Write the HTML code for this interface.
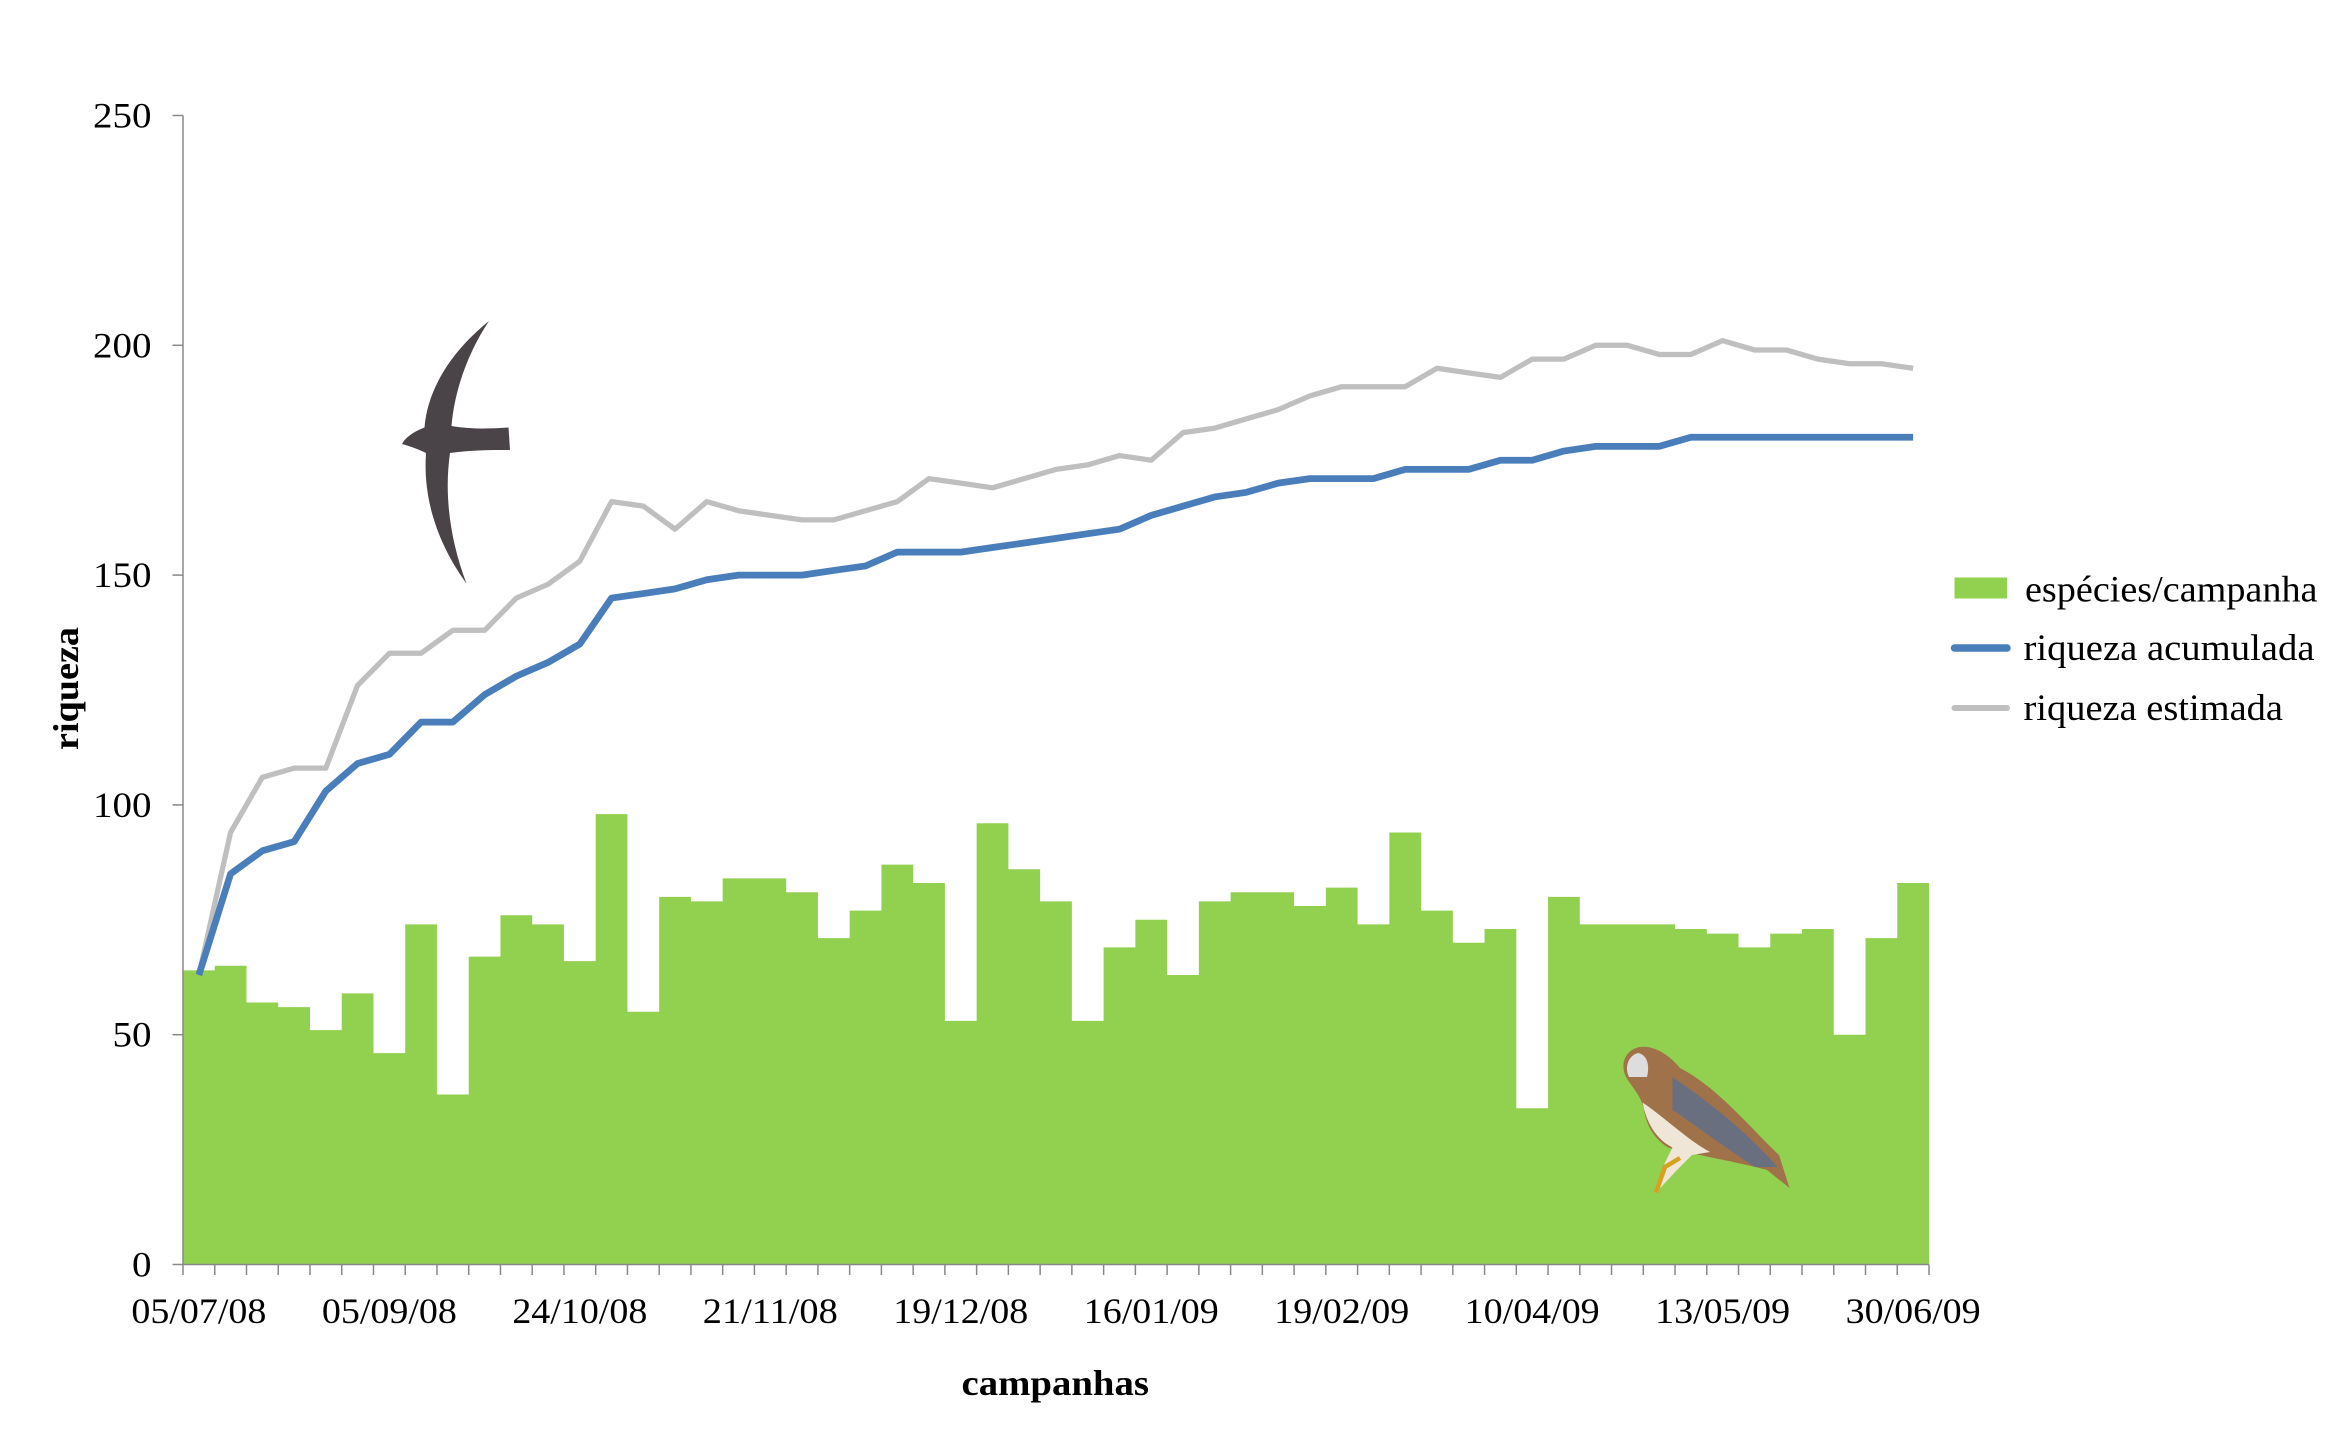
<!DOCTYPE html>
<html><head><meta charset="utf-8"><style>
html,body{margin:0;padding:0;background:#fff;}
svg{display:block;}
text{font-family:"Liberation Serif",serif;fill:#000;}
</style></head><body>
<svg id="c" width="2334" height="1456" viewBox="0 0 1556 970.67" xmlns="http://www.w3.org/2000/svg"></svg>
<script>
const bars=[64,65,57,56,51,59,46,74,37,67,76,74,66,98,55,80,79,84,84,81,71,77,87,83,53,96,86,79,53,69,75,63,79,81,81,78,82,74,94,77,70,73,34,80,74,74,74,73,72,69,72,73,50,71,83];
const blue=[63,85,90,92,103,109,111,118,118,124,128,131,135,145,146,147,149,150,150,150,151,152,155,155,155,156,157,158,159,160,163,165,167,168,170,171,171,171,173,173,173,175,175,177,178,178,178,180,180,180,180,180,180,180,180];
const gray=[63,94,106,108,108,126,133,133,138,138,145,148,153,166,165,160,166,164,163,162,162,164,166,171,170,169,171,173,174,176,175,181,182,184,186,189,191,191,191,195,194,193,197,197,200,200,198,198,201,199,199,197,196,196,195];
const X0=122,X1=1286,Y0=843,Y250=77,n=55,bw=(X1-X0)/n;
const y=v=>Y0-(Y0-Y250)*v/250;
let s='';
let d='M'+X0+' '+Y0;
bars.forEach((v,i)=>{d+=' L'+(X0+i*bw)+' '+y(v)+' L'+(X0+(i+1)*bw)+' '+y(v);});
d+=' L'+X1+' '+Y0+' Z';
s+=`<path d="${d}" fill="#92d050"/>`;
s+=`<line x1="${X0}" y1="${Y250}" x2="${X0}" y2="${Y0}" stroke="#888" stroke-width="1"/>`;
s+=`<line x1="${X0}" y1="${Y0}" x2="${X1}" y2="${Y0}" stroke="#888" stroke-width="1"/>`;
for(let v=0;v<=250;v+=50){s+=`<line x1="${X0-7}" y1="${y(v)}" x2="${X0}" y2="${y(v)}" stroke="#888"/>`;
const L=String(v).length*13;
s+=`<text x="${X0-21}" y="${y(v)+8}" font-size="24" text-anchor="end" textLength="${L}" lengthAdjust="spacingAndGlyphs">${v}</text>`;}
for(let i=0;i<=n;i++){const x=X0+i*bw;s+=`<line x1="${x}" y1="${Y0}" x2="${x}" y2="${Y0+7}" stroke="#888"/>`;}
const labs=['05/07/08','05/09/08','24/10/08','21/11/08','19/12/08','16/01/09','19/02/09','10/04/09','13/05/09','30/06/09'];
labs.forEach((l,k)=>{const x=X0+(k*6+0.5)*bw;s+=`<text x="${x-45}" y="${Y0+39}" font-size="24" textLength="90" lengthAdjust="spacingAndGlyphs">${l}</text>`;});
const pl=a=>a.map((v,i)=>(X0+(i+0.5)*bw).toFixed(1)+','+y(v).toFixed(1)).join(' ');
s+=`<polyline points="${pl(gray)}" fill="none" stroke="#bfbfbf" stroke-width="3.5" stroke-linejoin="round"/>`;
s+=`<polyline points="${pl(blue)}" fill="none" stroke="#4a7ebb" stroke-width="4.5" stroke-linejoin="round"/>`;
s+=`<text x="641" y="930" font-size="24" font-weight="bold" textLength="125" lengthAdjust="spacingAndGlyphs">campanhas</text>`;
s+=`<text transform="translate(52,500) rotate(-90)" font-size="24" font-weight="bold" textLength="82" lengthAdjust="spacingAndGlyphs">riqueza</text>`;
s+=`<rect x="1303" y="385" width="35" height="14" fill="#92d050"/>`;
s+=`<text x="1350" y="401" font-size="25" textLength="195" lengthAdjust="spacingAndGlyphs">espécies/campanha</text>`;
s+=`<line x1="1303" y1="432" x2="1338" y2="432" stroke="#4a7ebb" stroke-width="5" stroke-linecap="round"/>`;
s+=`<text x="1349" y="440" font-size="25" textLength="194" lengthAdjust="spacingAndGlyphs">riqueza acumulada</text>`;
s+=`<line x1="1303" y1="472" x2="1338" y2="472" stroke="#bfbfbf" stroke-width="4" stroke-linecap="round"/>`;
s+=`<text x="1349" y="480" font-size="25" textLength="173" lengthAdjust="spacingAndGlyphs">riqueza estimada</text>`;
s+=`<path d="M326,214 C300,235 285,260 283,285 C275,288 270,292 268,296 C275,298 280,300 284,302 C282,330 290,360 311,389 C300,360 296,330 300,302 C315,300 328,300 340,300 L339,285 C325,286 312,286 301,284 C303,260 312,235 326,214 Z" fill="#4a4448"/>`;
s+=`<path d="M1093,698 C1083,700 1080,710 1084,718 C1088,725 1094,730 1096,740 C1098,752 1104,760 1112,765 C1130,770 1160,775 1178,780 L1193,792 L1186,770 C1165,750 1145,725 1120,712 C1110,700 1100,697 1093,698 Z" fill="#a0724a"/>`;
s+=`<path d="M1092,702 C1085,704 1083,712 1086,718 L1098,718 C1100,710 1098,703 1092,702 Z" fill="#ddd"/>`;
s+=`<path d="M1115,718 C1140,735 1165,755 1185,778 L1170,778 C1150,765 1130,750 1115,740 Z" fill="#6a6f80"/>`;
s+=`<path d="M1095,735 C1098,750 1105,760 1115,765 L1110,775 L1104,795 L1118,780 L1128,770 L1140,768 C1125,760 1110,745 1095,735 Z" fill="#efe6d8"/>`;
s+=`<path d="M1104,795 L1110,778 L1120,772" stroke="#d9a020" stroke-width="3" fill="none"/>`;
document.getElementById('c').innerHTML=s;
</script>
</body></html>
